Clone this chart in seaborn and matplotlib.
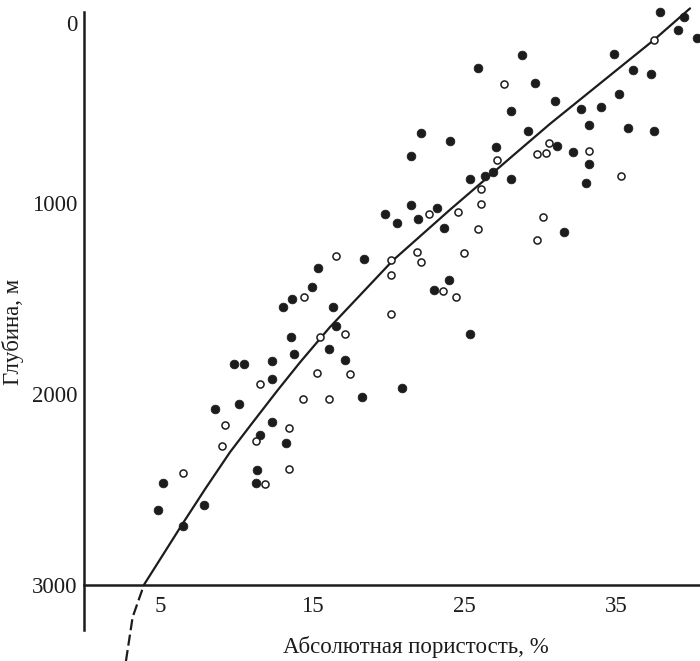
import matplotlib
matplotlib.use("Agg")
import matplotlib.pyplot as plt
import matplotlib.transforms as mtransforms
import seaborn as sns
import pandas as pd

# ---- data (porosity %, depth m) ----
filled_porosity = [37.9, 39.5, 39.1, 40.3, 34.9, 36.1, 37.3, 28.8, 25.9, 29.7,
                   31.0, 28.1, 32.7, 34.0, 35.2, 29.2, 33.2, 35.8, 37.5, 27.1,
                   31.1, 32.2, 33.2, 33.0, 26.4, 26.9, 28.1, 25.4, 31.6, 22.2,
                   24.1, 21.5, 19.8, 20.6, 21.5, 22.0, 23.2, 23.7, 18.4, 15.4,
                   15.0, 16.4, 16.6, 16.1, 17.2, 18.3, 20.9, 23.0, 24.0, 25.4,
                   13.7, 13.1, 13.6, 13.8, 9.9, 10.5, 12.4, 12.4, 8.6, 10.2,
                   12.4, 11.6, 13.3, 11.4, 11.3, 5.2, 4.9, 7.9, 6.5]
filled_depth = [0, 25, 95, 135, 220, 305, 325, 225, 290, 370,
                465, 520, 505, 495, 430, 620, 590, 605, 625, 705,
                700, 730, 795, 895, 860, 835, 875, 875, 1150, 635,
                675, 755, 1060, 1105, 1010, 1085, 1025, 1130, 1295, 1340,
                1440, 1545, 1645, 1765, 1820, 2015, 1970, 1455, 1405, 1685,
                1505, 1545, 1700, 1790, 1845, 1845, 1830, 1920, 2080, 2055,
                2145, 2215, 2260, 2400, 2465, 2465, 2610, 2580, 2690]

open_porosity = [37.5, 27.6, 30.6, 33.2, 27.2, 29.8, 30.4, 35.3, 26.1, 26.1,
                 25.9, 30.2, 29.8, 22.7, 24.6, 25.0, 21.9, 22.2, 20.2, 20.2,
                 20.2, 16.6, 14.5, 15.5, 17.2, 15.3, 17.5, 14.4, 16.1, 23.6,
                 24.5, 11.6, 9.3, 9.1, 13.5, 11.3, 13.5, 11.9, 6.5]
open_depth = [145, 375, 685, 725, 775, 745, 740, 860, 925, 1005,
              1135, 1075, 1195, 1060, 1045, 1260, 1255, 1310, 1300, 1375,
              1580, 1280, 1495, 1700, 1685, 1890, 1895, 2025, 2025, 1460,
              1490, 1950, 2165, 2275, 2180, 2245, 2395, 2470, 2415]

# trend curve
curve_porosity = [3.95, 5.46, 6.45, 8.0, 9.61, 11.0, 12.70, 14.21, 16.18,
                  20.33, 24.08, 28.68, 30.66, 37.5, 39.87]
curve_depth = [3000, 2810, 2685, 2495, 2305, 2160, 1985, 1835, 1650,
               1300, 1035, 720, 585, 145, -20]
dashed_porosity = [2.76, 3.2, 3.95]
dashed_depth = [3400, 3170, 3000]

x_major_ticks = [5, 15, 25, 35]
x_minor_ticks = [1.1, 10, 20, 30, 40]
y_ticks = [0, 500, 1000, 1500, 2000, 2500, 3000]
y_tick_labels = ["0", "", "1000", "", "2000", "", "3000"]

x_label = "Абсолютная пористость, %"
y_label = "Глубина, м"

# ---- style ----
sns.set_style("white")
plt.rcParams["font.family"] = ["Liberation Serif", "DejaVu Serif"]
plt.rcParams["font.size"] = 16.5
ink = "#1c1c1c"

fig = plt.figure(figsize=(7.0, 6.61), dpi=100)
ax = fig.add_axes([84 / 700, 0.0, 616 / 700, 1.0])

df_f = pd.DataFrame({"p": filled_porosity, "d": filled_depth})
df_o = pd.DataFrame({"p": open_porosity, "d": open_depth})
df_c = pd.DataFrame({"p": curve_porosity, "d": curve_depth})
df_dash = pd.DataFrame({"p": dashed_porosity, "d": dashed_depth})

sns.lineplot(data=df_c, x="p", y="d", sort=False, estimator=None, ax=ax,
             color=ink, linewidth=1.6)
sns.lineplot(data=df_dash, x="p", y="d", sort=False, estimator=None, ax=ax,
             color=ink, linewidth=1.6, dashes=False)
ax.lines[-1].set_linestyle((0, (5, 2)))

sns.scatterplot(data=df_f, x="p", y="d", ax=ax, s=40, color=ink,
                edgecolor=ink, linewidth=0.5, zorder=3)
sns.scatterplot(data=df_o, x="p", y="d", ax=ax, s=26, facecolor="white",
                edgecolor=ink, linewidth=1.1, zorder=3)

ax.set_xlim(0, 616 / 15.2)
ax.set_ylim(3400, -64)

# spines
for side in ("top", "right"):
    ax.spines[side].set_visible(False)
ax.spines["bottom"].set_position(("data", 3000))
ax.spines["left"].set_bounds(0, 3237)
for side in ("bottom", "left"):
    ax.spines[side].set_linewidth(1.8)
    ax.spines[side].set_color(ink)

ax.set_xticks(x_major_ticks)
ax.set_xticks(x_minor_ticks, minor=True)
ax.set_yticks(y_ticks)
ax.set_yticklabels(y_tick_labels)
ax.tick_params(axis="x", which="both", direction="in", length=8, width=1.8,
               color=ink, labelcolor=ink, pad=8)
ax.tick_params(axis="y", direction="in", length=11, width=1.8,
               color=ink, labelcolor=ink, pad=5)
zero_lbl = ax.get_yticklabels()[0]
zero_lbl.set_verticalalignment("top")
zero_lbl.set_transform(zero_lbl.get_transform() +
                       mtransforms.ScaledTranslation(0, -3 / 100, fig.dpi_scale_trans))

ax.set_xlabel(x_label, color=ink)
ax.xaxis.set_label_coords((416 - 84) / 616, (661 - 636) / 661)
ax.set_ylabel(y_label, color=ink)
ax.yaxis.set_label_coords((24 - 84) / 616, (661 - 332) / 661)

fig.savefig("out.png", dpi=100)
